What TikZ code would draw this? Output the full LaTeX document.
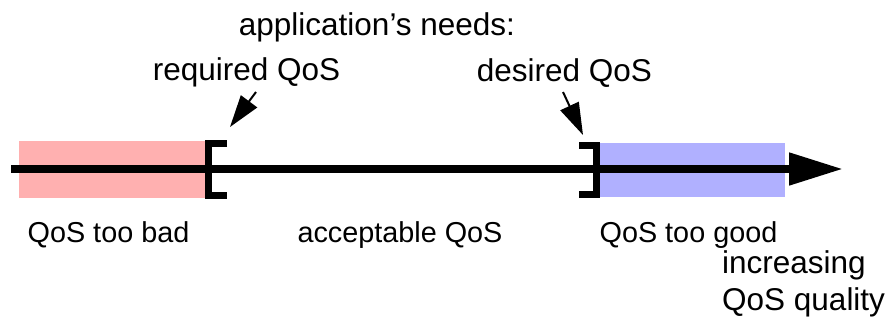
\documentclass[tikz,border=0pt]{standalone}
\usepackage{fontspec}
\setmainfont{Liberation Sans}
\usetikzlibrary{arrows.meta}
\definecolor{toobad}{RGB}{255,176,176}
\definecolor{toogood}{RGB}{176,176,255}

\begin{document}
\begin{tikzpicture}[x=1pt,y=-1pt,
		every node/.style={inner sep=0pt,anchor=base,font=\fontsize{31.5}{37}\selectfont},
		zonelabel/.style={font=\fontsize{28.8}{34}\selectfont},
		qosaxis/.style={line width=8pt,-{Triangle[length=54pt,width=31pt]}},
		bracket/.style={line width=7pt,miter limit=10},
		pointer/.style={line width=2pt,-{Triangle[length=32pt,width=20pt]}}]
		\useasboundingbox (0,0) rectangle (887,324);
		\fill[toobad] (19,141) rectangle (205,198); % QoS too bad region
		\fill[toogood] (600,143) rectangle (785,197); % QoS too good region
		\coordinate (axstart) at (11,169);
		\coordinate (axend) at (843,169);
		\draw[qosaxis] (axstart) -- (axend);
		\coordinate (lowtop) at (227,143.5);
		\coordinate (lowbot) at (227,195.5);
		\coordinate (hightop) at (579,145.5);
		\coordinate (highbot) at (579,194.5);
		\draw[bracket] (lowtop) -| (208.5,195.5) -- (lowbot); % required QoS bracket
		\draw[bracket] (hightop) -| (596.5,194.5) -- (highbot); % desired QoS bracket
		\node (needs) at (377,35) {application’s needs:};
		\node (required) at (246.5,80) {required QoS};
		\node (desired) at (564.5,81) {desired QoS};
		\coordinate (reqtail) at (256,92);
		\coordinate (reqtip) at (230,127);
		\coordinate (destail) at (563,92);
		\coordinate (destip) at (583,135);
		\draw[pointer] (reqtail) -- (reqtip);
		\draw[pointer] (destail) -- (destip);
		\node[zonelabel] (bad) at (108.5,242) {QoS too bad};
		\node[zonelabel] (ok) at (400,242) {acceptable QoS};
		\node[zonelabel] (good) at (688.5,242) {QoS too good};
		\node[anchor=base west,align=left] (quality) at (722,310) {increasing\\QoS quality};
	\end{tikzpicture}
\end{document}
